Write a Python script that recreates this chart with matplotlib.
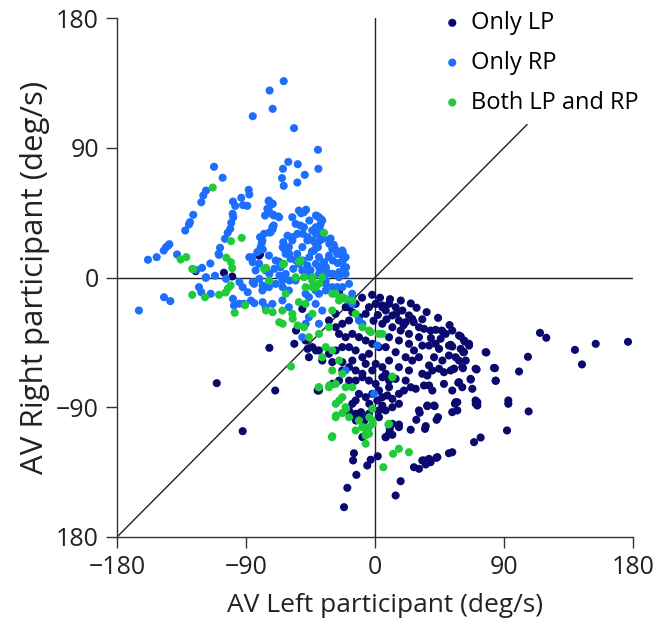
import matplotlib
matplotlib.use("Agg")
import matplotlib.pyplot as plt
import numpy as np

plt.rcParams['font.family'] = ['Open Sans', 'DejaVu Sans']

# ---- data (deg/s) ----
lp_x = [176.5, 154, 139.5, 144.4, 115.1, 119.5, 106.7, 100.5, 107.2, 93, 93, 92.1, 73.7, 69.1,
        83.7, 84.2, 77.7, 70.9, 66.8, 61.4, 58.1, 59.8, 62.6, 65.6, 61.6, 52.8, 53.9, 47, 55.1,
        55.8, 57.4, 53.9, 70.3, 71.4, 53.9, 51.6, 43.5, 37.7, 34.2, 35.4, 30.7, 27.2, 17.9, 14.4,
        -21.6, -19.3, -13, -14.7, -15.3, -5.4, -3, 1.9, 7.5, 12.1, 10.3, 16.7, 24.9, 28.8, 34.9,
        35.4, 43, 44, 31.2, 36.5, 41.6, 33, 38.8, 42.8,
        -73.7, -110.4, -69.6, -92.3, -55.1, -56.3, -47, -41.2, -40, -29.5, -13.3, -17.9, -9.8,
        -7.5, -4, -125.1, -105.4, -99.6, -80.2,
        -80.9, -50.7, -25.1, -15.9, -18.2, -27.5,
        0.5, 5.1, 9.8, 14.4, 19.1, 23.7, 26, 30.7, 34.2, 38.8, 42.3, 46.5, 51.6, 58.6, 62.1, 65.6,
        77.2, 59.8, 62.1, 42.3, 37.7, 33, 44.7, 41.2, 37.7, 33, 36.5, 40, 44.7, 48.1, 52.8, 55.1,
        60.9, 70.2, 83, 84.2, 66.7, 58.6, 48.1, 40, 37.7, 34.2, 28.4, 24.9, 20.2, 16.7, 12.1, 8.6,
        5.1, 1.6, 5.1, 2.8, 30.7, 36.5, 41.2, 56.3, 57.4, 70.2, 71.4,
        7.5, 12.1, 16.7, 21.4, 5.1, 12.1, 17.9, 23.7, 9.8, 16.7, 23.7, 7.5, 14.4, 21.4, 26, 9.8,
        16.7, 23.7, 7.5, 14.4, 21.4, 9.8, 30.7, 27.2, 30.7, 49.3, 53.9, 45.8, 51.6, 56.3, 47,
        58.6, 63.3, 53.9, 67.9, 60.9,
        0.5, 5.1, -4.2, -6.5, -11.2, -15.8, -20.5, -13.5, -18.1, -22.8, -27.4, -32.1, -25.1,
        -20.5, -15.8, -11.2, -6.5, -1.9, 2.8, -4.2, -8.8, -13.5, -18.1, -22.8, -27.4, -32.1,
        -39.1, -43.7, -48.4, -46.1, -36.8, -29.8, -22.8, -15.8, -6.5, 0.5, 5.1, -1.9, -8.8,
        -13.5, -18.1, -22.8, -25.1, -18.1, -13.5, -8.8, -4.2, 0.5, 5.1, 9.8, 2.8, -1.9, -6.5,
        -11.2, -13.5, -15.8, -18.1, -13.5, -8.8, -4.2, 2.8, 7.4, 12.1, 16.7, 12.1, 16.7, 9.8,
        7.4, -39.1, -8.8,
        3.5, 10.5, 18, 25, 29, 36, 44, 52, 2, 8, 15, 20, 27, 33, 39, -2, -9, -1]
lp_y = [-44.6, -46, -50.2, -60.3, -38.4, -41.8, -55, -65.2, -92.9, -85.3, -87.6, -106.1, -111,
        -114.2, -62.9, -71.7, -52, -63.8, -70.8, -62.9, -73, -40.9, -44.4, -47.2, -51.8, -46.7,
        -47.9, -37.2, -63.3, -87.6, -86.5, -93.4, -87.6, -86.5, -121.2, -121.9, -124.6, -125.8,
        -126.9, -129.7, -132.7, -131.6, -141.3, -151.2,
        -159.3, -145.9, -136.9, -121.9, -126.9, -130.4, -126.4, -124, -110.8, -109.1, -105, -102,
        -105.6, -98.7, -105, -103.1, -98.7, -96.9, -93.8, -89.2, -89.2, -126.9, -128.1, -125.1,
        -48.8, -73.3, -78.4, -106.6, -36.8, -46, -49.5, -50.6, -78.4, -73.7, -99.2, -94.5, -93.4,
        -99.2, -87.6, 4.4, 3.3, 0.7, 16,
        15.2, -21.8, -10.2, -15.9, -20.6, -25.2,
        -18.3, -19.4, -18.3, -20.6, -22.9, -26.3, -28.7, -34.5, -35.6, -36.8, -36.3, -36.8, -47.2,
        -40.2, -43.7, -46, -51.8, -49.5, -51.8, -46, -47.2, -47.2, -49.5, -55.3, -61, -66.8, -68,
        -64.5, -63.3, -65.7, -64.5, -63.3, -62.2, -63.3, -62.7, -71.5, -70.3, -72.6, -73.8, -78.4,
        -74.9, -74.9, -77.2, -76.1, -78.4, -80.7, -84.2, -81.8, -83, -85.3, -88.8, -92.2, -92.2,
        -88.8, -88.8, -86.5, -92.2, -85.3, -88.8,
        -22.9, -26.3, -29.8, -31, -32.1, -34.5, -36.8, -39.1, -41.4, -43.7, -46, -48.3, -51.8,
        -55.3, -57.6, -57.6, -62.2, -64.5, -66.8, -70.3, -71.5, -76.1, -41.4, -50.6, -55.3, -39.1,
        -36.8, -42.5, -54.1, -55.3, -57.6, -57.6, -57.6, -78.4, -77.2, -76.1,
        -18.3, -20.6, -20.6, -25.2, -27.5, -24.1, -20.6, -18.3, -29.8, -32.1, -34.5, -29.8, -39.1,
        -41.4, -39.1, -41.4, -43.7, -46, -48.3, -52.9, -55.3, -50.6, -48.3, -48.3, -50.6, -52.9,
        -50.6, -48.3, -43.7, -55.3, -57.6, -58.7, -58.7, -57.6, -59.9, -59.9, -62.2, -64.5, -66.8,
        -64.5, -62.2, -64.5, -71.5, -71.5, -71.5, -69.2, -71.5, -73.8, -69.2, -71.5, -78.4, -80.7,
        -83, -80.7, -85.3, -87.6, -92.2, -94.5, -96.9, -94.5, -96.9, -92.2, -90, -87.6, -101.5,
        -103.8, -108.4, -110.7, -78.4, -110.7,
        -14, -15, -16, -18, -21, -24, -28, -33, -26, -29, -25, -33, -31, -29, -42, -12, -14, -30]

rp_x = [-63.7, -73.5, -71.4, -85.3, -56.5, -39.8, -39.5, -60.5, -53.9, -64.2, -49, -64.9, -54.2,
        -63.7, -112.3, -106.3, -117.9, -119.8, -121.2, -126.8, -129.1, -129.8, -132.4, -143.5,
        -145.8, -147.4, -152.3, -158.4, -138.1, -114.9, -120.7, -124.9,
        -88.1, -87.7, -93.3, -99.1, -97.5, -92.1, -89.1, -99.3, -98.9, -100.3, -101, -102.8,
        -104.7, -109.1, -108.1, -87.7, -85.3,
        -74.2, -71.4, -74.2, -76.7, -71.4, -67.5, -70.7, -71.4, -73.7, -80.2, -79, -78.3, -64,
        -63.3, -62.1, -51.6, -48.1,
        -40.2, -36.8, -38.6, -41.2, -38.4, -39.8, -28.8, -27.2, -22.5, -21.8, -20.2, -31.9,
        -164.7, -147.2, -142.8, -121.2, -114.6, -122.8, -118.1, -111.6, -108.8, -144.2, -98.4,
        -99.1, -91.4, -94.7, -86.5, -84.2, -78.4,
        -117.9, -103.9, -94.6, -92.3, -88.8, -85.3, -80.7, -78.4, -73.7, -70.2, -66.7, -64.4,
        -59.7,
        -48.4, -43.7, -39.1, -34.4, -29.8, -25.1, -20.5, -18.1, -22.8, -29.8, -34.4, -39.1, -46.1,
        -41.4, -36.8, -46.1, -39.1, -48.4, -50.7, -15.8, -11.2, -8.8, -20.5, -0.7, 1.6,
        -74, -71.6, -75.1, -70.5, -66.9, -71.6, -72.8, -77.4, -78.6, -79.8, -82.1, -85.6, -80.9,
        -83.3, -84.4, -78.6, -74, -69.3, -64.6, -62.3, -65.8, -69.3, -74, -76.3, -57.7, -53.1,
        -49.6, -55.4, -54.2, -57.7, -60.1, -62.3, -58.9, -54.2, -50.7, -47.2, -49.6, -43.8,
        -39.1, -37.9, -40.3, -41.4, -42.6, -39.1, -35.6, -32.1, -29.8, -26.3, -22.8, -20.5,
        -21.6, -25.1, -29.8, -34.4, -47.2, -50.7, -53.1, -34.4, -26.3, -55.4, -60.1, -64.6,
        -71.6, -76.3, -60.1, -48.4, -41.4, -18.2, -15.9,
        -41.2, -36.5, -31.9, -28.4, -24.9, -22.5, -29.5, -34.2, -41.2, -45.8, -50.4, -55.1,
        -59.8, -64.4, -57.4, -50.4, -45.8, -43.5, -41.2, -37.7,
        -52, -47, -44, -36, -33, -57, -61, -67, -45, -39, -26, -31]
rp_y = [136.2, 129.7, 117, 111.9, 103.6, 88.6, 75.4, 80.2, 78.6, 75.4, 71.2, 68.9, 65.9, 63.6,
        76.8, 69.2, 60.3, 56.9, 52.2, 43.5, 38.4, 36.8, 32.6, 23.1, 21, 18.7, 14.1, 12.3, 16, 9.7,
        6.7, 5.3,
        60.8, 57.6, 55.3, 52.7, 49.7, 50.2, 49.7, 44.2, 41.8, 37.9, 33.8, 31, 26.8, 16.4, 20.6,
        14.1, 10.6,
        52.9, 51.1, 47.2, 43, 43.7, 42.3, 36.1, 33.5, 31.2, 28, 24.1, 19.4, 24.5, 19.9, 16.9,
        44.6, 47,
        42.5, 39.5, 34.9, 30.3, 25.7, 21, 22.7, 18.7, 17.5, 13, 7.1, 14.1,
        -22.9, -13.7, -16.4, -10.2, -11.3, -6.7, -0.2, 1.2, 15.7, 22.2, -19.4, -14.8, -18.2,
        -18.2, -16, -17.8, -17.1,
        0.2, -0.9, -3.2, -6.7, -10.2, -3.2, -0.9, -5.5, 2.5, 6, 1.4, -6.7, -2.1,
        2.5, 0.2, 2.5, -2.1, 2.5, 0.2, 2.5, -4.4, -6.7, -6.7, -9, -11.3, -13.6, -18.3, -22.9,
        -27.5, -32.1, -32.1, -41.4, -18.3, -29.8, -32.1, -64.5, -80.7, -47.2,
        53.4, 51.1, 47.7, 43, 41.8, 34.9, 31.4, 30.3, 25.7, 21.1, 17.6, 14.1, 9.5, 4.9, -4.4, -9,
        -6.7, -4.4, -2.1, 2.5, 7.1, 11.8, 15.2, 4.9, 41.8, 46.4, 45.3, 37.2, 30.3, 25.7, 21.1,
        16.4, 13, 16.4, 21.1, 25.7, 34.9, 32.6, 41.8, 37.2, 30.3, 23.4, 18.7, 14.1, 10.6, 15.2,
        19.9, 16.4, 18.7, 14.1, 7.1, 3.7, 2.5, 4.9, 8.3, 4.9, 9.5, -4.4, -6.7, -2.1, -9, -15.9,
        -18.3, -20.6, -20.6, -11.3, -9, -15.9, -11.3,
        34.9, 30.3, 23.4, 21, 16.4, 11.8, 11.8, 7.1, 9.5, 14.1, 11.8, 11.8, 16.4, 21, 28, 30.3,
        39.5, 25.7, 43, 40.5,
        36, 28, 18, 27, 3, 6, 29, 11, 5, 7, 10, 27]

both_x = [-127.5, -118.6, -108.8, -104.2, -127.5, -100.7, -102.6, -103.7, -100.5, -99.6, -100.5,
          -93, -135.6, -131.7, -127, -113.2, -97.9, -90.7,
          -76, -71.4, -66.8, -64.4, -57.4, -53.9, -58.6, -39.3, -31.9, -30, -27.2, -20.2, -24.9,
          -8.6, -4, -6.3, -1.6,
          -64.4, -76, -35.6, -53, -43.5,
          -49.5, -43.7, -39.1, -48.4, -43.7, -49.5, -46.1, -39.1, -32.1, -29.8, -25.1, -27.4,
          -20.5, -15.8, -13.5, -8.8, -4.2, 2.8, -34.4, -29.8, -36.8, -25.1, -29.8, -22.8, -27.4,
          -39.1, -32.1, -20.5, -15.8, -22.8, -27.4, -20.5, -27.4, -18.1, -11.2, -8.8, -13.5,
          -4.2, -1.9, -4.2, -6.5, 12.1, 9.8, -29.8,
          -63.5, -77.4, -74, -55.4, -51.9, -62.3, -53.1, -43.8, -41.4, -36.8, -48.4, -64.6,
          -57.7, -29.8, -22.8,
          5.8, 12.6, 16.7, 23.7, 9.3, 12.1, -3, 5.1, -1.9, -22.8, -6.5]
both_y = [-12, -13.7, -12, -10.4, 6, -5.5, -7.6, 13.7, 10.6, 6.5, 25.2, 27.5, 12.5, 14.1, 5.8,
          62.4, -24.5, -19.2,
          -22.9, -24.1, -31, -32.1, -28.6, -33.3, -61.7, -76.1, -74.9, -110.8, -95.7, -91.1,
          -85.3, -103.8, -96.9, -108.4, -101.5,
          9, 6.7, 31, 11, 0.2,
          0.2, -6.7, -4.4, -18.3, -25.2, -34.5, -41.4, -39.1, -34.5, -22.9, -16, -11.3, -14.8,
          -16, -25.2, -34.5, -36.8, -39.1, -48.3, -50.6, -55.3, -57.6, -64.5, -66.8, -73.8,
          -76.1, -76.1, -76.1, -76.1, -83, -87.6, -90, -96.9, -96.9, -99.2, -103.8, -106.1,
          -103.8, -99.2, -108.4, -115.3, -69.2, -101.5, -110.1,
          9.5, 6, -2.1, 0.2, 11.8, -11.3, -17.1, -2.1, -6.7, 0.2, -6.7, -22.9, -25.2, -11.3,
          -13.6,
          -131.6, -122.3, -118.8, -121.2, -102, -68.7, -37.9, -39.1, -91.1, -94, -109.6]

labels = ["Only LP", "Only RP", "Both LP and RP"]
colors = ["#0a0a6e", "#1c6ffc", "#1fcb3a"]

x_ticks = [-180, -90, 0, 90, 180]
x_ticklabels = ["\u2212180", "\u221290", "0", "90", "180"]
y_ticks = [-180, -90, 0, 90, 180]
y_ticklabels = ["180", "\u221290", "0", "90", "180"]

fig = plt.figure(figsize=(6.54, 6.29), dpi=100)
ax = fig.add_axes([117 / 654, 1 - 537 / 629, 516 / 654, 519 / 629])

ax.axhline(0, color="#222222", lw=1.0, zorder=1)
ax.axvline(0, color="#222222", lw=1.0, zorder=1)
ax.plot([-180, 106], [-180, 106], color="#222222", lw=1.0, zorder=1)

for xs, ys, lab, col in zip([lp_x, rp_x, both_x], [lp_y, rp_y, both_y], labels, colors):
    ax.scatter(xs, ys, s=34, color=col, edgecolors="none", label=lab, zorder=2)

ax.set_xlim(-180, 180)
ax.set_ylim(-180, 180)
ax.set_xticks(x_ticks)
ax.set_xticklabels(x_ticklabels)
ax.set_yticks(y_ticks)
ax.set_yticklabels(y_ticklabels)
ax.spines["top"].set_visible(False)
ax.spines["right"].set_visible(False)
for sp in ("left", "bottom"):
    ax.spines[sp].set_color("#333333")
    ax.spines[sp].set_linewidth(1.0)
ax.tick_params(direction="out", length=8, width=1, colors="#333333",
               labelsize=18, labelcolor="#222222", pad=5)

ax.set_xlabel("AV Left participant (deg/s)", fontsize=19, color="#222222")
ax.xaxis.set_label_coords(0.52, -0.107)
ax.set_ylabel("AV Right participant (deg/s)", fontsize=22.5, color="#222222")
ax.yaxis.set_label_coords(-0.13, 0.5)

leg = ax.legend(loc="upper left", bbox_to_anchor=(0.636, 1.0135), frameon=False, fontsize=17,
                handlelength=0.6, handletextpad=0.5, labelspacing=0.67, borderpad=0,
                borderaxespad=0, scatterpoints=1)

fig.savefig("out.png", dpi=100)
